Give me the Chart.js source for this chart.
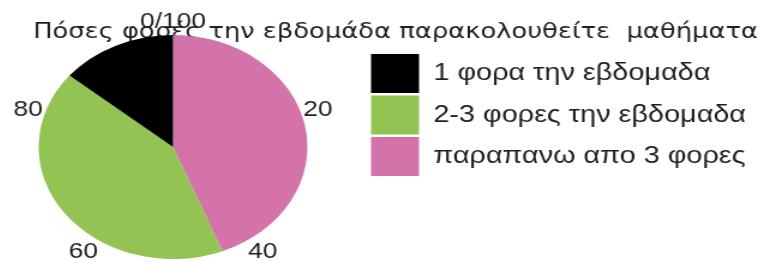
<!DOCTYPE html>
<html>
<head>
<meta charset="utf-8">
<script src="https://cdn.jsdelivr.net/npm/chart.js@4/dist/chart.umd.min.js"></script>
<style>
  html, body { margin: 0; padding: 0; background: #ffffff; overflow: hidden; }
  #wrap { width: 772px; height: 262px; overflow: hidden; position: relative; }
  #c { display: block; position: absolute; left: 0; top: 0; transform: translateX(-22px) scaleX(1.2); transform-origin: 0 0; }
</style>
</head>
<body>
<div id="wrap"><canvas id="c" width="662" height="262"></canvas></div>
<script>
// ---- data ----
const titleText = 'Πόσες φορές την εβδομάδα παρακολουθείτε  μαθήματα';
const categories = ['παραπανω απο 3 φορες', '2-3 φορες την εβδομαδα', '1 φορα την εβδομαδα'];
const percentValues = [44, 42, 14];
const sliceColors = ['#d472aa', '#92c353', '#000000'];
const tickValues = [0, 20, 40, 60, 80];
const tickLabels = ['0/100', '20', '40', '60', '80'];

const textColor = '#1e1e1e';
const legendFamily = '"Liberation Sans", Arial, sans-serif';
const titleFamily = '"DejaVu Sans", sans-serif';

// legend geometry (layout only)
const W = 662;
const legendFont = 24, legendBoxW = 40, legendBoxH = 39, legendPad = 2.5;
const legendLeft = 325;
const mctx = document.createElement('canvas').getContext('2d');
mctx.font = legendFont + 'px ' + legendFamily;
const maxText = Math.max(...categories.map(t => mctx.measureText(t).width));
const legendWidth = legendPad + legendBoxW + legendFont / 2 + maxText + 10;
const padRight = Math.max(0, W - legendLeft - legendWidth);

// angular percentage labels around the pie
const ringLabels = {
  id: 'ringLabels',
  afterDraw(chart) {
    const arc = chart.getDatasetMeta(0).data[0];
    if (!arc) return;
    const ctx = chart.ctx;
    const cx = arc.x, cy = arc.y, R = arc.outerRadius + 15;
    ctx.save();
    ctx.font = '22px ' + legendFamily;
    ctx.fillStyle = textColor;
    ctx.textAlign = 'center';
    ctx.textBaseline = 'middle';
    tickValues.forEach((v, i) => {
      const a = -Math.PI / 2 + (v / 100) * Math.PI * 2;
      ctx.fillText(tickLabels[i], cx + Math.cos(a) * R, cy + Math.sin(a) * R + 2);
    });
    ctx.restore();
  }
};

new Chart(document.getElementById('c'), {
  type: 'pie',
  data: {
    labels: categories,
    datasets: [{
      data: percentValues,
      backgroundColor: sliceColors,
      borderWidth: 0
    }]
  },
  options: {
    responsive: false,
    animation: false,
    layout: { padding: { left: 0, right: padRight, top: 0, bottom: 3 } },
    plugins: {
      tooltip: { enabled: false },
      title: {
        display: true,
        text: titleText,
        align: 'end',
        color: textColor,
        font: { family: titleFamily, size: 21.5, weight: 'normal', lineHeight: 1.2 },
        padding: { top: 20, bottom: -10.8 }
      },
      legend: {
        position: 'right',
        align: 'start',
        fullSize: false,
        reverse: true,
        title: { display: true, text: ' ', font: { size: 10, lineHeight: 1.2 }, padding: { top: 2, bottom: 2.5 } },
        labels: {
          color: textColor,
          boxWidth: legendBoxW,
          boxHeight: legendBoxH,
          padding: legendPad,
          font: { family: legendFamily, size: legendFont }
        }
      }
    }
  },
  plugins: [ringLabels]
});
</script>
</body>
</html>
